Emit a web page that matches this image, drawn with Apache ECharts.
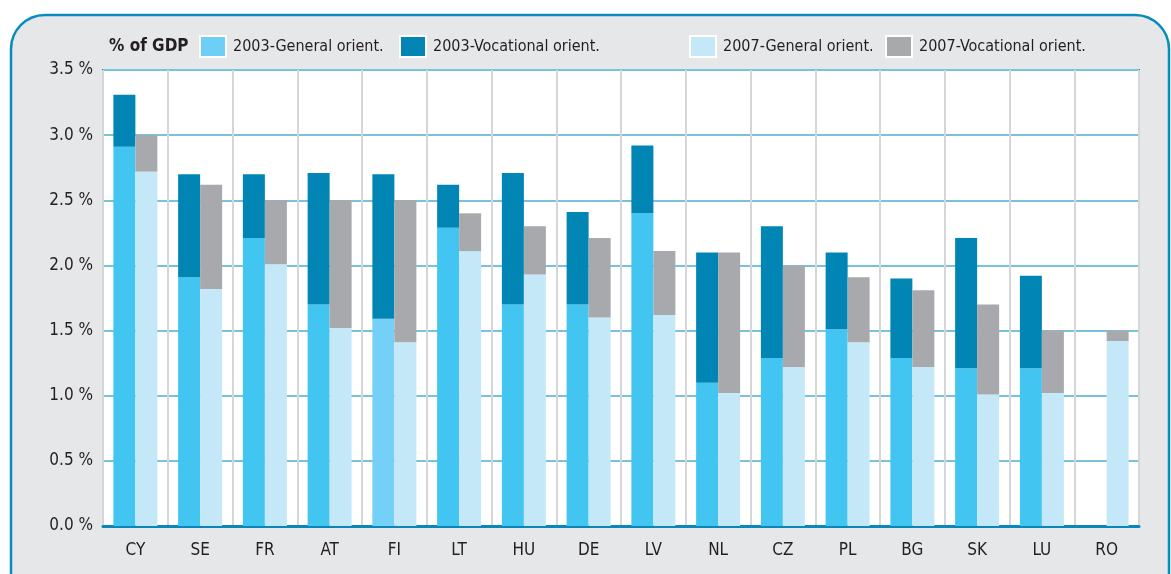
<!DOCTYPE html>
<html style="height: 100%;">
  <head>
    <meta charset="utf-8" />
    <script src="https://cdn.jsdelivr.net/npm/echarts/dist/echarts.min.js"></script>
  </head>
  <body style="height: 100%; margin: 0; background: #fff;">
    <div id="container" style="width: 1171px; height: 574px;"></div>
    <script type="text/javascript">
      var countries = ["CY", "SE", "FR", "AT", "FI", "LT", "HU", "DE", "LV", "NL", "CZ", "PL", "BG", "SK", "LU", "RO"];
      var gen2003 = [2.91, 1.91, 2.21, 1.7, 1.59, 2.29, 1.7, 1.7, 2.4, 1.1, 1.29, 1.51, 1.29, 1.21, 1.21, null];
      var voc2003 = [0.4, 0.79, 0.49, 1.01, 1.11, 0.33, 1.01, 0.71, 0.52, 1.0, 1.01, 0.59, 0.61, 1.0, 0.71, null];
      var gen2007 = [2.72, 1.82, 2.01, 1.52, 1.41, 2.11, 1.93, 1.6, 1.62, 1.02, 1.22, 1.41, 1.22, 1.01, 1.02, 1.42];
      var voc2007 = [0.28, 0.8, 0.49, 0.98, 1.09, 0.29, 0.37, 0.61, 0.49, 1.08, 0.78, 0.5, 0.59, 0.69, 0.48, 0.08];
      var yTicks = [0, 0.5, 1, 1.5, 2, 2.5, 3, 3.5];

      var font = "'Liberation Sans Narrow', 'DejaVu Sans Condensed', 'Roboto', sans-serif";
      var textColor = "#231f20";

      // FI's general bar is drawn in the lighter legend tone in the original
      var gen2003Data = gen2003.map(function (v, i) {
        if (countries[i] === "FI") {
          return { value: v, itemStyle: { color: "#74d0f6" } };
        }
        return v;
      });

      var names = ["2003-General orient.", "2003-Vocational orient.", "2007-General orient.", "2007-Vocational orient."];
      var legendColors = ["#6dcff6", "#0085b5", "#c5e8f8", "#a8a9ad"];
      var legendLeft = [194, 394, 684, 880];

      var dom = document.getElementById("container");
      var myChart = echarts.init(dom);

      var option = {
        animation: false,
        backgroundColor: "#fff",
        textStyle: { fontFamily: font },
        graphic: [
          {
            type: "rect",
            z: -10,
            shape: { x: 11, y: 15, width: 1158, height: 620, r: 34 },
            style: { fill: "#e6e7e9", stroke: "#0a8bbd", lineWidth: 2.5 },
          },
        ],
        title: {
          text: "% of GDP",
          left: 104,
          top: 33,
          textStyle: { fontFamily: font, fontSize: 17, fontWeight: "bold", color: textColor },
        },
        legend: names.map(function (n, i) {
          return {
            left: legendLeft[i],
            top: 30,
            itemWidth: 26,
            itemHeight: 21,
            itemGap: 8,
            textStyle: { fontFamily: font, fontSize: 16, color: textColor, padding: [0, 0, 0, 2] },
            data: [
              {
                name: n,
                icon: "rect",
                itemStyle: { color: legendColors[i], borderColor: "#fff", borderWidth: 2 },
              },
            ],
          };
        }),
        grid: {
          left: 103,
          right: 32,
          top: 70,
          bottom: 48,
          show: true,
          backgroundColor: "#fff",
          borderColor: "#0a86b8",
          borderWidth: 2,
        },
        xAxis: {
          type: "category",
          data: countries,
          axisTick: { show: false },
          axisLine: { lineStyle: { color: "#0a86b8", width: 3 } },
          axisLabel: { fontFamily: font, fontSize: 17, color: textColor, margin: 16 },
          splitLine: { show: true, interval: 0, lineStyle: { color: "#d5d6d8", width: 2 } },
        },
        yAxis: {
          type: "value",
          min: 0,
          max: 3.5,
          interval: 0.5,
          axisLine: { show: false },
          axisTick: { show: false },
          axisLabel: {
            fontFamily: font,
            fontSize: 17,
            color: textColor,
            margin: 10,
            formatter: function (v) {
              return yTicks.indexOf(v) >= 0 ? v.toFixed(1) + " %" : "";
            },
          },
          splitLine: { lineStyle: { color: "#79c2de", width: 2 } },
        },
        series: [
          {
            name: names[0],
            type: "bar",
            stack: "s2003",
            barWidth: 22,
            barGap: "0%",
            itemStyle: { color: "#42c5f0" },
            data: gen2003Data,
          },
          {
            name: names[1],
            type: "bar",
            stack: "s2003",
            barWidth: 22,
            barGap: "0%",
            itemStyle: { color: "#0085b5" },
            data: voc2003,
          },
          {
            name: names[2],
            type: "bar",
            stack: "s2007",
            barWidth: 22,
            barGap: "0%",
            itemStyle: { color: "#c5e8f8" },
            data: gen2007,
          },
          {
            name: names[3],
            type: "bar",
            stack: "s2007",
            barWidth: 22,
            barGap: "0%",
            itemStyle: { color: "#a8a9ad" },
            data: voc2007,
          },
        ],
      };
      myChart.setOption(option, true);
    </script>
  </body>
</html>
